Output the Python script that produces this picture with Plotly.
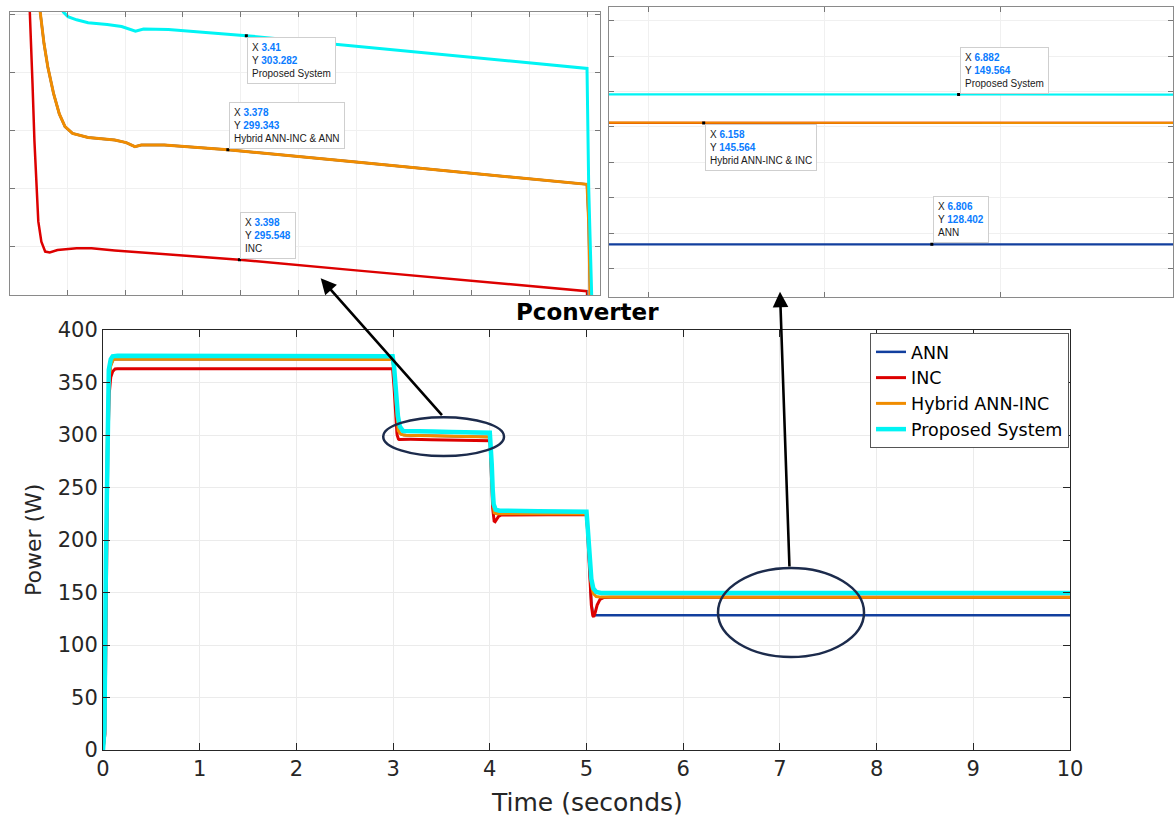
import plotly.graph_objects as go

W, H = 1174, 817

# ---------------- data ----------------
t_ann = [0, 0.015, 0.03, 0.045, 0.06, 0.08, 0.1, 0.11, 0.15, 1.0, 2.0, 2.995, 3.01, 3.03, 3.045,
         3.053, 3.0563, 3.0596, 3.0662, 3.0762, 3.0861, 3.096, 3.109, 3.136, 3.182, 3.202, 3.217,
         3.228, 3.268, 3.378, 3.6, 3.8,
         4.0, 4.003, 4.006, 4.015, 4.03, 4.045, 4.07, 4.5, 5.0, 5.01, 5.03, 5.05, 5.065, 5.08,
         5.1, 6.0, 6.806, 7.0, 8.0, 9.0, 10.0]
p_ann = [0, 15, 160, 300, 352, 366, 370.5, 372, 372.3, 372.2, 372.1, 372.0, 360, 330, 310,
         304.1, 303.59, 303.01, 302.2, 301.28, 300.58, 300.14, 299.91, 299.77, 299.68, 299.59, 299.45,
         299.51, 299.51, 299.343, 298.92, 298.53,
         298.15, 296.8, 293, 275, 240, 226, 224.9, 224.85, 224.8, 210, 172, 140, 130, 128.4,
         128.402, 128.402, 128.402, 128.402, 128.402, 128.402, 128.402]

t_inc = [0, 0.02, 0.035, 0.05, 0.065, 0.08, 0.1, 0.125, 0.15, 1.0, 2.0, 2.995, 3.01, 3.025,
         3.035, 3.0364, 3.0397, 3.043, 3.0464, 3.0497, 3.055, 3.0616, 3.0695, 3.083, 3.116, 3.142,
         3.182, 3.398, 3.6, 3.8,
         4.0, 4.004, 4.015, 4.03, 4.045, 4.055, 4.07, 4.09, 4.12, 4.5, 5.0, 5.01, 5.03, 5.05,
         5.065, 5.075, 5.09, 5.11, 5.14, 5.18, 5.25, 6.0, 7.0, 8.0, 9.0, 10.0]
p_inc = [0, 15, 150, 290, 340, 355, 360.5, 362.8, 363, 363, 363, 363, 345, 318,
         304.1, 303.13, 301.62, 299.65, 298.03, 296.87, 296.17, 295.83, 295.80, 295.88, 295.94, 295.94,
         295.87, 295.548, 295.18, 294.82,
         294.46, 290, 265, 230, 218, 217.4, 219.5, 222.5, 223.8, 224.3, 224.3, 210, 170, 138,
         128, 126.8, 131, 138, 143.5, 145.3, 145.564, 145.564, 145.564, 145.564, 145.564, 145.564]

t_hyb = [0, 0.015, 0.03, 0.045, 0.06, 0.08, 0.1, 0.11, 0.15, 1.0, 2.0, 2.995, 3.01, 3.03, 3.045,
         3.053, 3.0563, 3.0596, 3.0662, 3.0762, 3.0861, 3.096, 3.109, 3.136, 3.182, 3.202, 3.217,
         3.228, 3.268, 3.378, 3.6, 3.8,
         4.0, 4.003, 4.006, 4.015, 4.03, 4.045, 4.07, 4.5, 5.0, 5.01, 5.03, 5.05, 5.07, 5.1,
         5.15, 6.0, 6.158, 7.0, 8.0, 9.0, 10.0]
p_hyb = [0, 15, 160, 300, 352, 366, 370.5, 372, 372.3, 372.2, 372.1, 372.0, 360, 330, 310,
         304.1, 303.59, 303.01, 302.2, 301.28, 300.58, 300.14, 299.91, 299.77, 299.68, 299.59, 299.45,
         299.51, 299.51, 299.343, 298.92, 298.53,
         298.15, 296.8, 293, 275, 240, 226, 224.9, 224.85, 224.8, 212, 180, 158, 149, 146.2,
         145.6, 145.564, 145.564, 145.564, 145.564, 145.564, 145.564]

t_prop = [0, 0.015, 0.03, 0.045, 0.06, 0.08, 0.1, 0.15, 1.0, 2.0, 2.995, 3.01, 3.03, 3.05, 3.07,
          3.085, 3.093, 3.096, 3.101, 3.116, 3.136, 3.169, 3.194, 3.218, 3.232, 3.275, 3.41, 3.6,
          3.8, 4.0, 4.003, 4.01,
          4.02, 4.03, 4.04, 4.06, 4.1, 4.5, 5.0, 5.01, 5.03, 5.05, 5.07, 5.1, 5.15, 6.0, 6.882,
          7.0, 8.0, 9.0, 10.0]
p_prop = [0, 20, 180, 320, 362, 372, 375, 375.5, 375.4, 375.2, 375.0, 365, 340, 318, 308,
          305, 304.1, 304.03, 303.94, 303.83, 303.73, 303.67, 303.60, 303.44, 303.51, 303.5, 303.282, 302.92,
          302.53, 302.15, 298, 290,
          272, 248, 234, 229, 227.9, 227.4, 226.9, 215, 185, 163, 154, 150.5, 149.6, 149.564, 149.564,
          149.564, 149.564, 149.564, 149.564]

series_names = ["ANN", "INC", "Hybrid ANN-INC", "Proposed System"]
series_t = [t_ann, t_inc, t_hyb, t_prop]
series_p = [p_ann, p_inc, p_hyb, p_prop]

x_ticks = [0, 1, 2, 3, 4, 5, 6, 7, 8, 9, 10]
y_ticks = [0, 50, 100, 150, 200, 250, 300, 350, 400]

# data tips (inset, x, y, label)
tip_axis = ["left", "left", "left", "right", "right", "right"]
tip_x = [3.41, 3.378, 3.398, 6.882, 6.158, 6.806]
tip_y = [303.282, 299.343, 295.548, 149.564, 145.564, 128.402]
tip_label = ["Proposed System", "Hybrid ANN-INC & ANN", "INC",
             "Proposed System", "Hybrid ANN-INC & INC", "ANN"]

# ---------------- styling ----------------
colors = ["#123f9e", "#dd0000", "#f08c00", "#00f4f4"]
main_widths = [2.5, 3, 3, 4.5]
left_widths = [2.5, 2.5, 3, 3]
right_widths = [2.2, 2.2, 2.2, 2.2]
FONT = "DejaVu Sans, Verdana, sans-serif"
TIPFONT = "Liberation Sans, Arial, Helvetica, sans-serif"


def fx(px):
    return px / W


def fy(py):
    return (H - py) / H


fig = go.Figure()

for name, t, p, c, w in zip(series_names, series_t, series_p, colors, main_widths):
    fig.add_trace(go.Scatter(x=t, y=p, mode="lines", name=name,
                             line=dict(color=c, width=w), xaxis="x", yaxis="y"))
for t, p, c, w in zip(series_t, series_p, colors, left_widths):
    fig.add_trace(go.Scatter(x=t, y=p, mode="lines", showlegend=False,
                             line=dict(color=c, width=w), xaxis="x2", yaxis="y2"))
for t, p, c, w in zip(series_t, series_p, colors, right_widths):
    fig.add_trace(go.Scatter(x=t, y=p, mode="lines", showlegend=False,
                             line=dict(color=c, width=w), xaxis="x3", yaxis="y3"))

# data-tip markers
for ax_name, xs, ys in [("left", "x2", "y2"), ("right", "x3", "y3")]:
    xx = [tx for a, tx in zip(tip_axis, tip_x) if a == ax_name]
    yy = [ty for a, ty in zip(tip_axis, tip_y) if a == ax_name]
    fig.add_trace(go.Scatter(x=xx, y=yy, mode="markers", showlegend=False,
                             marker=dict(color="black", size=3, symbol="square"),
                             xaxis=xs, yaxis=ys))

axis_common = dict(showline=True, mirror="allticks", ticks="inside", zeroline=False,
                   showgrid=True)

fig.update_layout(
    width=W, height=H, autosize=False,
    margin=dict(l=0, r=0, t=0, b=0),
    paper_bgcolor="white", plot_bgcolor="white",
    font=dict(family=FONT, color="#262626"),
    xaxis=dict(domain=[fx(103), fx(1070)], range=[0, 10], tickvals=x_ticks,
               ticklen=7, tickcolor="#262626", linecolor="#262626", linewidth=1,
               gridcolor="#ebebeb", tickfont=dict(size=21, color="#262626"),
               automargin=False, **axis_common),
    yaxis=dict(domain=[fy(750), fy(330)], range=[0, 400], tickvals=y_ticks,
               ticklen=7, tickcolor="#262626", linecolor="#262626", linewidth=1,
               gridcolor="#ebebeb", tickfont=dict(size=21, color="#262626"),
               automargin=False, **axis_common),
    xaxis2=dict(domain=[fx(9.6), fx(600)], range=[3.0, 4.0225], dtick=0.1, tick0=3.0,
                showticklabels=False, ticklen=5, tickcolor="#777777", linecolor="#8a8a8a",
                gridcolor="#f0f0f0", anchor="y2", automargin=False, **axis_common),
    yaxis2=dict(domain=[fy(295), fy(12)], range=[294.33, 304.1], dtick=2, tick0=296,
                showticklabels=False, ticklen=5, tickcolor="#777777", linecolor="#8a8a8a",
                gridcolor="#f0f0f0", anchor="x2", automargin=False, **axis_common),
    xaxis3=dict(domain=[fx(609), fx(1173)], range=[5.889, 7.491], dtick=0.5, tick0=6.0,
                showticklabels=False, ticklen=5, tickcolor="#777777", linecolor="#8a8a8a",
                gridcolor="#f0f0f0", anchor="y3", automargin=False, **axis_common),
    yaxis3=dict(domain=[fy(296.7), fy(7.3)], range=[121.0, 161.9], dtick=5, tick0=125,
                showticklabels=False, ticklen=5, tickcolor="#777777", linecolor="#8a8a8a",
                gridcolor="#f0f0f0", anchor="x3", automargin=False, **axis_common),
    legend=dict(x=fx(1069), y=fy(333), xanchor="right", yanchor="top",
                bgcolor="white", bordercolor="#555555", borderwidth=1,
                font=dict(size=17.5, family=FONT, color="black"),
                traceorder="normal", itemwidth=30, tracegroupgap=0,
                entrywidth=185, entrywidthmode="pixels"),
    showlegend=True,
)

annotations = []
# title and axis titles
annotations.append(dict(text="<b>Pconverter</b>", x=fx(588), y=fy(312), xref="paper", yref="paper",
                        showarrow=False, font=dict(size=23, color="black"),
                        xanchor="center", yanchor="middle"))
annotations.append(dict(text="Time (seconds)", x=fx(587), y=fy(802), xref="paper", yref="paper",
                        showarrow=False, font=dict(size=25, color="#262626"),
                        xanchor="center", yanchor="middle"))
annotations.append(dict(text="Power (W)", x=fx(33), y=fy(540), xref="paper", yref="paper",
                        showarrow=False, font=dict(size=22, color="#262626"), textangle=-90,
                        xanchor="center", yanchor="middle"))

# data tips
tip_anchor = ["top", "bottom", "bottom", "bottom", "top", "bottom"]
for a, tx, ty, lab, ya in zip(tip_axis, tip_x, tip_y, tip_label, tip_anchor):
    xr, yr = ("x2", "y2") if a == "left" else ("x3", "y3")
    txt = (f"X <span style='color:#0a7cff'><b>{tx:g}</b></span><br>"
           f"Y <span style='color:#0a7cff'><b>{ty:g}</b></span><br>{lab}")
    annotations.append(dict(text=txt, x=tx, y=ty, xref=xr, yref=yr, showarrow=False,
                            xanchor="left", yanchor=ya, align="left",
                            xshift=1, yshift=(-1 if ya == "top" else 1),
                            font=dict(size=10, family=TIPFONT, color="#1a1a1a"),
                            bgcolor="white", bordercolor="#cfcfcf", borderwidth=1, borderpad=4))

# arrows (head positions in pixels, tail offsets in pixels)
annotations.append(dict(x=fx(320.7), y=fy(278.3), xref="paper", yref="paper", text="",
                        showarrow=True, ax=122.6, ay=138.4, arrowhead=2, arrowsize=1.2,
                        arrowwidth=2.6, arrowcolor="black", standoff=0))
annotations.append(dict(x=fx(780), y=fy(291.7), xref="paper", yref="paper", text="",
                        showarrow=True, ax=9.5, ay=276.3, arrowhead=2, arrowsize=1.2,
                        arrowwidth=2.6, arrowcolor="black", standoff=0))
fig.update_layout(annotations=annotations)

# ellipses
fig.add_shape(type="circle", xref="x", yref="y", x0=2.898, x1=4.147, y0=280, y1=316.9,
              line=dict(color="#1c2b4c", width=2.5))
fig.add_shape(type="circle", xref="x", yref="y", x0=6.36, x1=7.87, y0=88.6, y1=173.3,
              line=dict(color="#1c2b4c", width=2.5))

fig.write_html("out.html")
